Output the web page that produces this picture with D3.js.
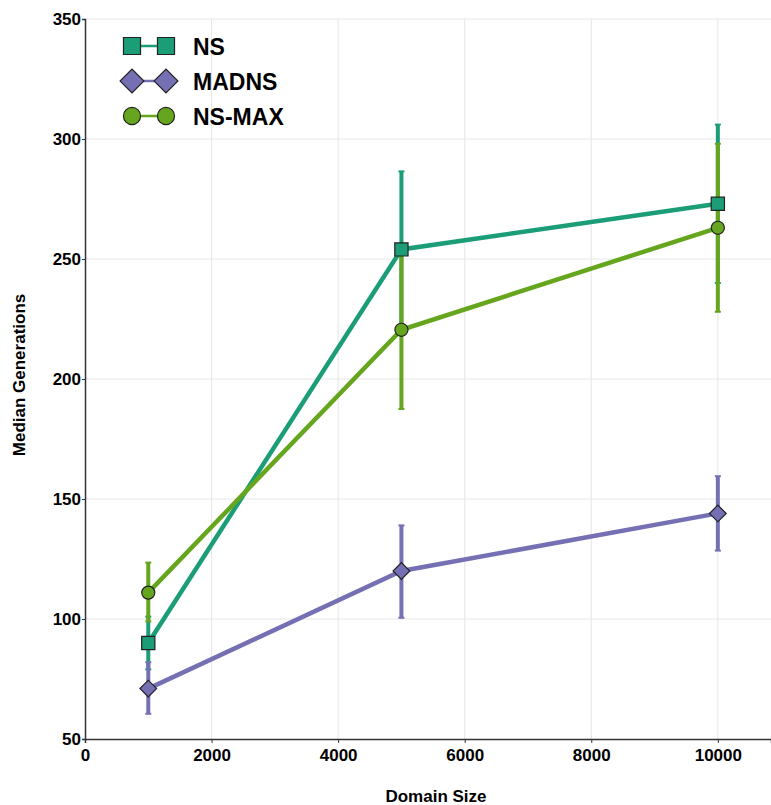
<!DOCTYPE html>
<html>
<head>
<meta charset="utf-8">
<script src="https://cdn.jsdelivr.net/npm/d3@7"></script>
<style>
  html, body { margin: 0; padding: 0; background: #ffffff; }
  svg { display: block; font-family: "Liberation Sans", Arial, sans-serif; }
</style>
</head>
<body>
<svg id="chart" width="771" height="805"></svg>
<script>
// Domain sizes on the x axis
const domainSizes = [1000, 5000, 10000];

// Median generations per method, with lower / upper error bounds
const seriesNames = ["NS", "MADNS", "NS-MAX"];
const nsValues = [90, 254, 273];
const nsLower = [79, 222, 240];
const nsUpper = [101, 286.5, 306];
const madnsValues = [71, 120, 144];
const madnsLower = [60.5, 100.5, 128.5];
const madnsUpper = [82, 139, 159.5];
const nsmaxValues = [111, 220.5, 263];
const nsmaxLower = [99, 187.5, 228];
const nsmaxUpper = [123.5, 253.5, 298];

const xTicks = [0, 2000, 4000, 6000, 8000, 10000];
const yTicks = [50, 100, 150, 200, 250, 300, 350];

const colors = { "NS": "#1b9e77", "MADNS": "#7570b3", "NS-MAX": "#66a61e" };
// Marker shapes: the diamond is a square turned by 45 degrees
const symbols = { "NS": d3.symbolSquare, "MADNS": d3.symbolSquare, "NS-MAX": d3.symbolCircle };
const rotations = { "NS": 0, "MADNS": 45, "NS-MAX": 0 };
const symbolSizes = { "NS": 175, "MADNS": 140, "NS-MAX": 135 };
const legendSizes = { "NS": 290, "MADNS": 285, "NS-MAX": 230 };

const series = [
  { name: "NS", values: nsValues, lower: nsLower, upper: nsUpper },
  { name: "MADNS", values: madnsValues, lower: madnsLower, upper: madnsUpper },
  { name: "NS-MAX", values: nsmaxValues, lower: nsmaxLower, upper: nsmaxUpper }
];

const svg = d3.select("#chart");
const plotLeft = 85, plotRight = 771, plotTop = 19, plotBottom = 739;

const x = d3.scaleLinear().domain([0, 10840]).range([plotLeft, plotRight]);
const y = d3.scaleLinear().domain([50, 350]).range([plotBottom, plotTop]);

// Grid
const grid = svg.append("g");
grid.selectAll("line.v").data(xTicks.slice(1)).join("line")
  .attr("x1", d => x(d)).attr("x2", d => x(d))
  .attr("y1", plotTop).attr("y2", plotBottom)
  .attr("stroke", "#e6e6e6").attr("stroke-width", 1);
grid.selectAll("line.h").data(yTicks.slice(1)).join("line")
  .attr("x1", plotLeft).attr("x2", plotRight)
  .attr("y1", d => y(d)).attr("y2", d => y(d))
  .attr("stroke", "#e6e6e6").attr("stroke-width", 1);

// Axes
const xAxis = svg.append("g").attr("transform", `translate(0,${plotBottom})`)
  .call(d3.axisBottom(x).tickValues(xTicks).tickFormat(d3.format("d")).tickSize(4).tickPadding(6));
const yAxis = svg.append("g").attr("transform", `translate(${plotLeft},0)`)
  .call(d3.axisLeft(y).tickValues(yTicks).tickSize(3).tickPadding(1));
[xAxis, yAxis].forEach(a => {
  a.select(".domain").attr("stroke", "#333").attr("stroke-width", 1.5);
  a.selectAll(".tick line").attr("stroke", "#333");
  a.selectAll(".tick text").attr("fill", "#000").attr("font-size", 17)
    .attr("font-weight", "bold").attr("font-family", "Liberation Sans, Arial, sans-serif");
});

// Axis titles
svg.append("text").attr("x", 436).attr("y", 802)
  .attr("text-anchor", "middle").attr("font-size", 17).attr("font-weight", "bold")
  .text("Domain Size");
svg.append("text").attr("transform", "translate(25,375) rotate(-90)")
  .attr("text-anchor", "middle").attr("font-size", 17).attr("font-weight", "bold")
  .text("Median Generations");

// Error bars
const capW = 3;
series.forEach(s => {
  const g = svg.append("g");
  domainSizes.forEach((dx, i) => {
    const cx = x(dx);
    g.append("line").attr("x1", cx).attr("x2", cx)
      .attr("y1", y(s.lower[i])).attr("y2", y(s.upper[i]))
      .attr("stroke", colors[s.name]).attr("stroke-width", 4);
    [s.lower[i], s.upper[i]].forEach(v => {
      g.append("line").attr("x1", cx - capW).attr("x2", cx + capW)
        .attr("y1", y(v)).attr("y2", y(v))
        .attr("stroke", colors[s.name]).attr("stroke-width", 2);
    });
  });
});

// Lines
const line = d3.line().x((d, i) => x(domainSizes[i])).y(d => y(d));
series.forEach(s => {
  svg.append("path").datum(s.values).attr("d", line)
    .attr("fill", "none").attr("stroke", colors[s.name]).attr("stroke-width", 4.5);
});

// Markers
series.forEach(s => {
  svg.append("g").selectAll("path").data(s.values).join("path")
    .attr("transform", (d, i) => `translate(${x(domainSizes[i])},${y(d)}) rotate(${rotations[s.name]})`)
    .attr("d", d3.symbol().type(symbols[s.name]).size(symbolSizes[s.name]))
    .attr("fill", colors[s.name]).attr("stroke", "#222").attr("stroke-width", 1.2);
});

// Legend
const legend = svg.append("g");
seriesNames.forEach((name, i) => {
  const ly = 46 + i * 35;
  legend.append("line").attr("x1", 132).attr("x2", 166).attr("y1", ly).attr("y2", ly)
    .attr("stroke", colors[name]).attr("stroke-width", 2.5);
  [132, 166].forEach(mx => {
    legend.append("path").attr("transform", `translate(${mx},${ly}) rotate(${rotations[name]})`)
      .attr("d", d3.symbol().type(symbols[name]).size(legendSizes[name]))
      .attr("fill", colors[name]).attr("stroke", "#222").attr("stroke-width", 1.2);
  });
  legend.append("text").attr("x", 193).attr("y", ly + 8.5)
    .attr("font-size", 23).attr("font-weight", "bold").attr("fill", "#000")
    .text(name);
});
</script>
</body>
</html>
